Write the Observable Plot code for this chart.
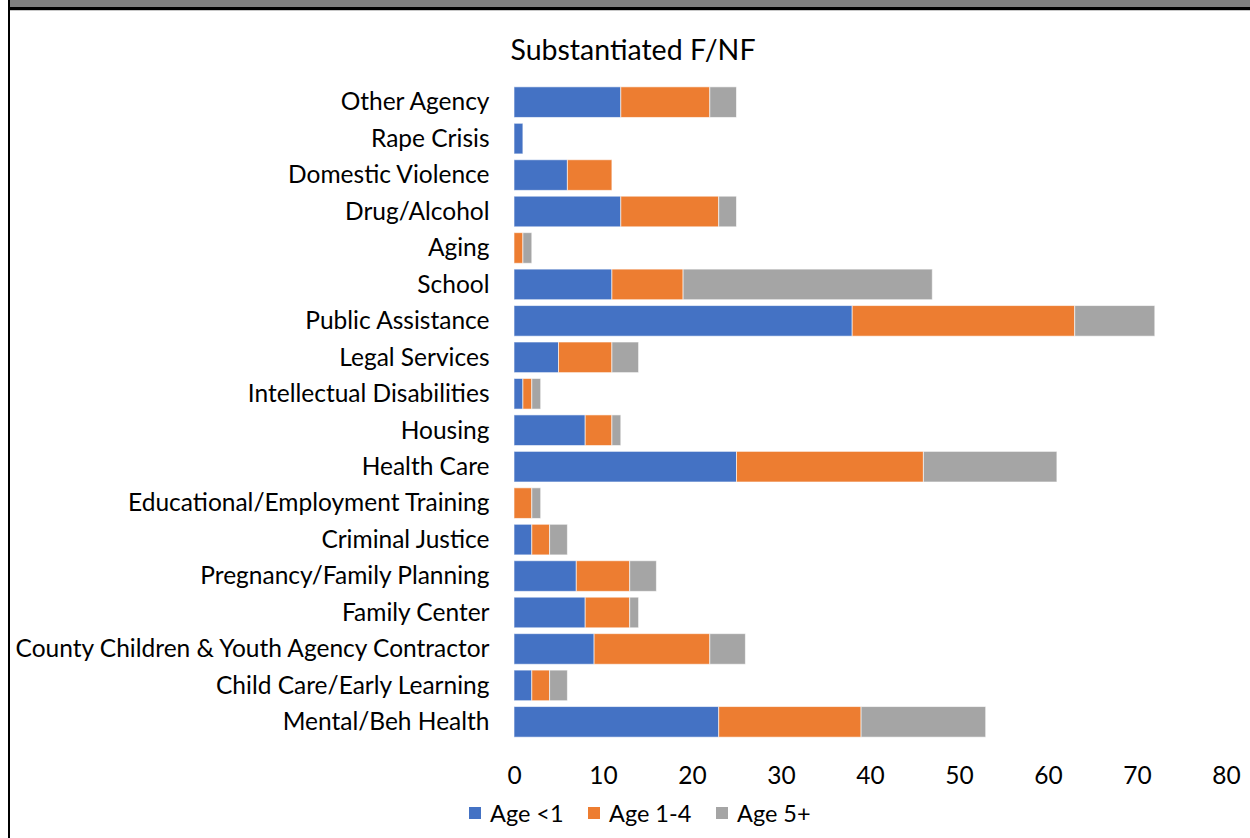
<!DOCTYPE html>
<html>
<head>
<meta charset="utf-8">
<script src="https://cdn.jsdelivr.net/npm/d3@7"></script>
<script src="https://cdn.jsdelivr.net/npm/@observablehq/plot@0.6"></script>
<style>
  html, body { margin: 0; padding: 0; background: #fff; }
  #wrap { position: relative; width: 1250px; height: 838px; overflow: hidden; background: #fff; font-family: Lato, "Open Sans", sans-serif; }
  .abs { position: absolute; }
  #band { left: 10px; top: 0; width: 1240px; height: 7px; background: #7f7f7f; }
  #bline { left: 8px; top: 7px; width: 1242px; height: 3px; background: #000; }
  #gline { left: 10px; top: 10px; width: 1240px; height: 1px; background: #c8c8c8; }
  #lborder { left: 8px; top: 0; width: 2px; height: 838px; background: #000; }
  #title { left: 0; width: 1266px; top: 32px; text-align: center; font-size: 28.5px; color: #000; }
  #chart { left: 0; top: 0; }
  #legend { top: 799px; left: 469px; display: flex; align-items: center; font-size: 23.5px; color: #000; white-space: nowrap; }
  .item { display: flex; align-items: center; }
  .item:nth-child(1) { width: 119px; }
  .item:nth-child(2) { width: 128px; }
  .sw { width: 12px; height: 12px; margin-right: 9px; }
</style>
</head>
<body>
<div id="wrap">
  <div id="band" class="abs"></div>
  <div id="bline" class="abs"></div>
  <div id="gline" class="abs"></div>
  <div id="lborder" class="abs"></div>
  <div id="title" class="abs">Substantiated F/NF</div>
  <div id="chart" class="abs"></div>
  <div id="legend" class="abs"></div>
</div>
<script>
const categories = [
  "Other Agency",
  "Rape Crisis",
  "Domestic Violence",
  "Drug/Alcohol",
  "Aging",
  "School",
  "Public Assistance",
  "Legal Services",
  "Intellectual Disabilities",
  "Housing",
  "Health Care",
  "Educational/Employment Training",
  "Criminal Justice",
  "Pregnancy/Family Planning",
  "Family Center",
  "County Children & Youth Agency Contractor",
  "Child Care/Early Learning",
  "Mental/Beh Health"
];
const seriesNames = ["Age <1", "Age 1-4", "Age 5+"];
const ageUnder1 = [12, 1, 6, 12, 0, 11, 38, 5, 1, 8, 25, 0, 2, 7, 8, 9, 2, 23];
const age1to4   = [10, 0, 5, 11, 1, 8, 25, 6, 1, 3, 21, 2, 2, 6, 5, 13, 2, 16];
const age5plus  = [3, 0, 0, 2, 1, 28, 9, 3, 1, 1, 15, 1, 2, 3, 1, 4, 2, 14];
const seriesColors = ["#4472C4", "#ED7D31", "#A5A5A5"];
const xTicks = [0, 10, 20, 30, 40, 50, 60, 70, 80];

const seriesValues = [ageUnder1, age1to4, age5plus];
const data = [];
seriesNames.forEach((s, si) => {
  categories.forEach((c, ci) => {
    data.push({agency: c, age: s, value: seriesValues[si][ci]});
  });
});

const chart = Plot.plot({
  width: 1250,
  height: 790,
  marginLeft: 514,
  marginRight: 24,
  marginTop: 81,
  marginBottom: 47,
  style: {fontFamily: "Lato, 'Open Sans', sans-serif", fontSize: "24.5px", color: "#000", background: "transparent"},
  x: {domain: [0, 80], ticks: xTicks, label: null, tickSize: 0, tickPadding: 23},
  y: {domain: categories, label: null, tickSize: 0, tickPadding: 25, padding: 0.16, round: false},
  color: {domain: seriesNames, range: seriesColors},
  marks: [
    Plot.gridX(xTicks, {stroke: "#d9d9d9", strokeOpacity: 1, strokeWidth: 2, y1: 84, y2: 740}),
    Plot.barX(data.filter(d => d.value > 0), {
      x: "value", y: "agency", fill: "age",
      stroke: "#ffffff", strokeWidth: 1, strokeOpacity: 0.6
    })
  ]
});
document.getElementById("chart").appendChild(chart);

const legend = document.getElementById("legend");
seriesNames.forEach((s, i) => {
  const item = document.createElement("div");
  item.className = "item";
  const sw = document.createElement("div");
  sw.className = "sw";
  sw.style.background = seriesColors[i];
  const t = document.createElement("span");
  t.textContent = s;
  item.appendChild(sw);
  item.appendChild(t);
  legend.appendChild(item);
});
</script>
</body>
</html>
